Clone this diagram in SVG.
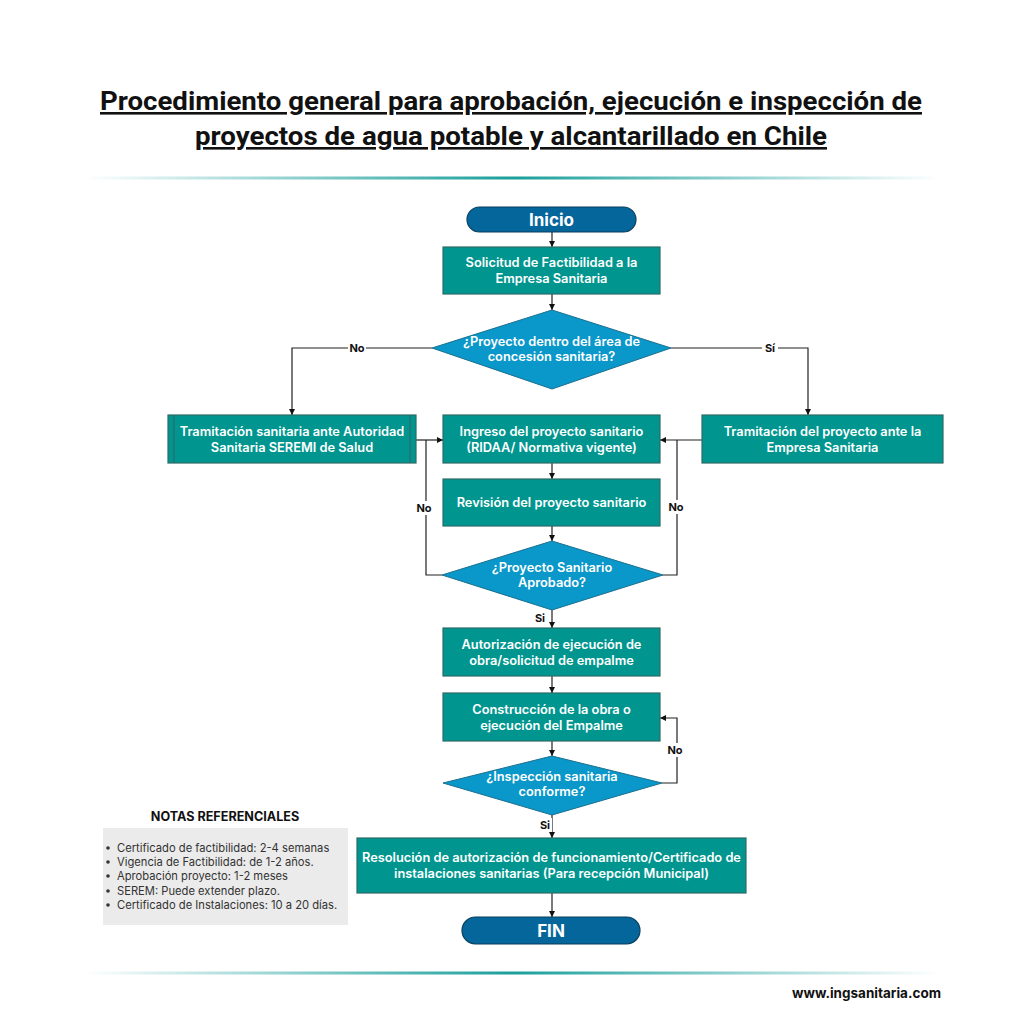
<svg xmlns="http://www.w3.org/2000/svg" width="1024" height="1024" viewBox="0 0 1024 1024">
<defs>
<linearGradient id="sep" x1="0" y1="0" x2="1" y2="0">
<stop offset="0" stop-color="#1aa09c" stop-opacity="0"/>
<stop offset="0.5" stop-color="#1a9f9b" stop-opacity="1"/>
<stop offset="1" stop-color="#1aa09c" stop-opacity="0"/>
</linearGradient>
<marker id="arr" viewBox="0 0 10 10" refX="10" refY="5" markerWidth="6" markerHeight="6" orient="auto" markerUnits="userSpaceOnUse">
<path d="M0,0 L10,5 L0,10 z" fill="#111"/>
</marker>
<style>
.title{font-family:Roboto,"Liberation Sans",sans-serif;font-weight:700;font-size:26px;fill:#111;text-decoration:underline;}
.box{fill:#00968f;stroke:#2d6b68;stroke-width:1.2;}
.dia{fill:#0a97c9;stroke:#1b6f8f;stroke-width:1;}
.pill{fill:#05669c;stroke:#0b3f5e;stroke-width:1.2;}
.t{font-family:Inter,"Noto Sans",sans-serif;font-weight:600;font-size:12.8px;fill:#fff;text-anchor:middle;}
.tp{font-family:Inter,"Noto Sans",sans-serif;font-weight:700;font-size:17px;fill:#fff;text-anchor:middle;}
.ln{fill:none;stroke:#222;stroke-width:1.2;}
.lbl{font-family:Inter,"Noto Sans",sans-serif;font-weight:700;font-size:11px;fill:#111;text-anchor:middle;}
.lb{fill:#fff;}
.note{font-family:Inter,"Noto Sans",sans-serif;font-size:11.2px;fill:#333;}
</style>
</defs>
<rect width="1024" height="1024" fill="#fff"/>

<g id="title">
<text class="title" x="511" y="110" text-anchor="middle" textLength="822" lengthAdjust="spacingAndGlyphs">Procedimiento general para aprobación, ejecución e inspección de</text>
<text class="title" x="511" y="145" text-anchor="middle" textLength="632" lengthAdjust="spacingAndGlyphs">proyectos de agua potable y alcantarillado en Chile</text>
</g>
<rect x="85" y="176.5" width="855" height="3" fill="url(#sep)"/>
<rect x="85" y="971.5" width="855" height="3" fill="url(#sep)"/>

<g id="connectors">
<path class="ln" d="M552,232 V247" marker-end="url(#arr)"/>
<path class="ln" d="M552,294 V310" marker-end="url(#arr)"/>
<path class="ln" d="M432,348 H292 V415" marker-end="url(#arr)"/>
<path class="ln" d="M671,348 H808 V415" marker-end="url(#arr)"/>
<path class="ln" d="M416,440 H443" marker-end="url(#arr)"/>
<path class="ln" d="M702,440 H660" marker-end="url(#arr)"/>
<path class="ln" d="M552,463 V479" marker-end="url(#arr)"/>
<path class="ln" d="M552,526 V541" marker-end="url(#arr)"/>
<path class="ln" d="M442,575 H426 V440"/>
<path class="ln" d="M663,575 H677 V440"/>
<path class="ln" d="M552,610 V628" marker-end="url(#arr)"/>
<path class="ln" d="M552,676 V693" marker-end="url(#arr)"/>
<path class="ln" d="M552,741 V756" marker-end="url(#arr)"/>
<path class="ln" d="M662,783 H677 V718 H660" marker-end="url(#arr)"/>
<path class="ln" d="M552,815 V838" marker-end="url(#arr)"/>
<path class="ln" d="M552,893 V917" marker-end="url(#arr)"/>
<rect class="lb" x="348" y="341" width="18" height="14"/>
<text class="lbl" x="357" y="352">No</text>
<rect class="lb" x="762" y="341" width="16" height="14"/>
<text class="lbl" x="770" y="352">Sí</text>
<rect class="lb" x="415" y="501" width="18" height="14"/>
<text class="lbl" x="424" y="512">No</text>
<rect class="lb" x="667" y="500" width="18" height="14"/>
<text class="lbl" x="676" y="511">No</text>
<rect class="lb" x="533" y="611" width="14" height="14"/>
<text class="lbl" x="540" y="622">Si</text>
<rect class="lb" x="666" y="743" width="18" height="14"/>
<text class="lbl" x="675" y="754">No</text>
<rect class="lb" x="538" y="818" width="14" height="14"/>
<text class="lbl" x="545" y="829">Si</text>
</g>

<g id="inicio">
<rect class="pill" x="467" y="207" width="169" height="25" rx="12.5"/>
<text class="tp" x="551.5" y="225.5">Inicio</text>
</g>
<g id="solicitud">
<rect class="box" x="443" y="247" width="217" height="47"/>
<text class="t" x="551.5" y="267">Solicitud de Factibilidad a la</text>
<text class="t" x="551.5" y="283">Empresa Sanitaria</text>
</g>
<g id="decision-area">
<polygon class="dia" points="552,310 671,348 552,389 432,348"/>
<text class="t" x="551.5" y="346">¿Proyecto dentro del área de</text>
<text class="t" x="551.5" y="361">concesión sanitaria?</text>
</g>
<g id="tramitacion-seremi">
<rect class="box" x="168" y="415" width="248" height="48"/>
<line x1="174" y1="415" x2="174" y2="463" stroke="#2d6b68" stroke-width="1.2"/>
<line x1="410" y1="415" x2="410" y2="463" stroke="#2d6b68" stroke-width="1.2"/>
<text class="t" x="292" y="436">Tramitación sanitaria ante Autoridad</text>
<text class="t" x="292" y="452">Sanitaria SEREMI de Salud</text>
</g>
<g id="ingreso">
<rect class="box" x="443" y="415" width="217" height="48"/>
<text class="t" x="551.5" y="436">Ingreso del proyecto sanitario</text>
<text class="t" x="551.5" y="452">(RIDAA/ Normativa vigente)</text>
</g>
<g id="tramitacion-empresa">
<rect class="box" x="702" y="415" width="241" height="48"/>
<text class="t" x="822.5" y="436">Tramitación del proyecto ante la</text>
<text class="t" x="822.5" y="452">Empresa Sanitaria</text>
</g>
<g id="revision">
<rect class="box" x="443" y="479" width="217" height="47"/>
<text class="t" x="551.5" y="507">Revisión del proyecto sanitario</text>
</g>
<g id="decision-aprobado">
<polygon class="dia" points="552,541 663,575 552,610 442,575"/>
<text class="t" x="552" y="572">¿Proyecto Sanitario</text>
<text class="t" x="552" y="587">Aprobado?</text>
</g>
<g id="autorizacion">
<rect class="box" x="443" y="628" width="217" height="48"/>
<text class="t" x="551.5" y="649">Autorización de ejecución de</text>
<text class="t" x="551.5" y="665">obra/solicitud de empalme</text>
</g>
<g id="construccion">
<rect class="box" x="443" y="693" width="217" height="48"/>
<text class="t" x="551.5" y="714">Construcción de la obra o</text>
<text class="t" x="551.5" y="730">ejecución del Empalme</text>
</g>
<g id="decision-inspeccion">
<polygon class="dia" points="552,756 662,783 552,815 443,783"/>
<text class="t" x="552" y="781">¿Inspección sanitaria</text>
<text class="t" x="552" y="796">conforme?</text>
</g>
<g id="resolucion">
<rect class="box" x="357" y="838" width="389" height="55"/>
<text class="t" x="551.5" y="862">Resolución de autorización de funcionamiento/Certificado de</text>
<text class="t" x="551.5" y="878">instalaciones sanitarias (Para recepción Municipal)</text>
</g>
<g id="fin">
<rect class="pill" x="462" y="917" width="178" height="27" rx="13.5"/>
<text class="tp" x="551" y="936.5">FIN</text>
</g>

<g id="notas">
<text x="225" y="821" text-anchor="middle" style="font-family:Inter,'Noto Sans',sans-serif;font-weight:700;font-size:12.6px;fill:#111;">NOTAS REFERENCIALES</text>
<rect x="103" y="828" width="245" height="97" fill="#ebebeb"/>
<g fill="#333">
<circle cx="108" cy="848" r="1.8"/>
<circle cx="108" cy="862" r="1.8"/>
<circle cx="108" cy="876" r="1.8"/>
<circle cx="108" cy="891" r="1.8"/>
<circle cx="108" cy="905" r="1.8"/>
</g>
<text class="note" x="117" y="852">Certificado de factibilidad: 2-4 semanas</text>
<text class="note" x="117" y="866">Vigencia de Factibilidad: de 1-2 años.</text>
<text class="note" x="117" y="880">Aprobación proyecto: 1-2 meses</text>
<text class="note" x="117" y="895">SEREM: Puede extender plazo.</text>
<text class="note" x="117" y="909">Certificado de Instalaciones: 10 a 20 días.</text>
</g>

<text x="941" y="998" text-anchor="end" style="font-family:Inter,'Noto Sans',sans-serif;font-weight:700;font-size:13.5px;fill:#111;">www.ingsanitaria.com</text>
</svg>
